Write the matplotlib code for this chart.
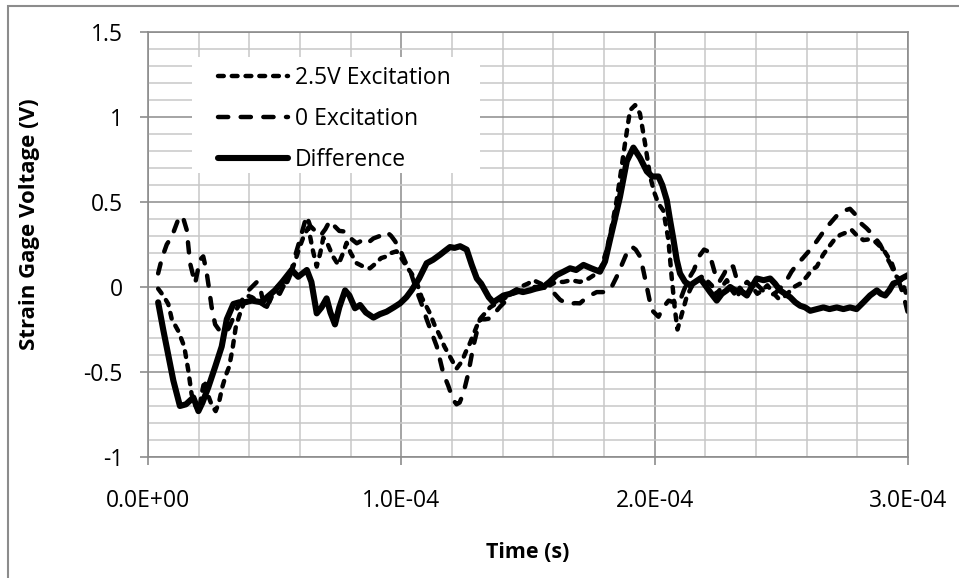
import matplotlib
matplotlib.use("Agg")
import matplotlib.pyplot as plt
from matplotlib.patches import Rectangle
from matplotlib.ticker import MultipleLocator, FuncFormatter

# time in microseconds, voltage in V
t_exc = [4, 6, 8, 9.4, 12, 14.3, 15.9, 17.2, 18.8, 20.1, 21.3, 22.3, 23.8, 25.3, 26.7, 28, 29.3, 30.7,
         32, 33.3, 34.6, 36, 37.2, 39, 41, 43, 45, 47, 49, 51, 53, 55, 56.5, 58, 60, 61.5, 63.3, 65,
         66.6, 68, 69.2, 71, 73, 75.1, 77, 78.4, 80, 82.4, 85, 87.6, 90, 92, 94.2, 96, 98.1, 100,
         102.1, 104, 106, 108, 111.3, 113, 115.3, 117, 119.2, 121.8, 123.8, 125.5, 127.1, 129.8,
         131.5, 133, 135, 137.6, 139.5, 141.6, 144, 146.9, 150, 152.1, 155, 158.7, 161, 164, 167,
         170.5, 174, 177.1, 179, 181.1, 183, 185, 186.7, 188.3, 190.3, 192.3, 194.2, 196.2, 198.2,
         200, 201.5, 203.4, 205.4, 206.7, 208, 209, 210.7, 212.6, 214.5, 216.5, 218.5, 220.5, 222.5,
         224.5, 226.5, 228.5, 230.5, 232.5, 234.5, 236.5, 238.5, 240.5, 242.5, 244.5, 246.5, 249,
         251, 253, 255, 257.4, 260, 262, 264, 266.5, 269.3, 271, 273.2, 275.5, 277.8, 280, 282.4,
         284.5, 287, 290.3, 292, 293.6, 295.5, 297.5, 298.8, 300]
v_exc = [-0.01, -0.05, -0.10, -0.19, -0.26, -0.35, -0.49, -0.63, -0.70, -0.73, -0.62, -0.55, -0.64,
         -0.70, -0.73, -0.68, -0.59, -0.52, -0.47, -0.37, -0.24, -0.17, -0.12, -0.05, -0.06, -0.08,
         -0.10, -0.12, -0.05, 0.0, 0.02, 0.03, 0.08, 0.15, 0.24, 0.30, 0.35, 0.22, 0.12, 0.20, 0.29,
         0.25, 0.18, 0.13, 0.20, 0.26, 0.20, 0.14, 0.12, 0.11, 0.14, 0.17, 0.18, 0.20, 0.21, 0.17,
         0.12, 0.08, 0.03, -0.06, -0.155, -0.22, -0.29, -0.35, -0.41, -0.48, -0.44, -0.38, -0.33,
         -0.23, -0.18, -0.155, -0.12, -0.096, -0.08, -0.057, -0.03, 0.0, 0.02, 0.04, 0.02, 0.01,
         0.03, 0.03, 0.04, 0.03, 0.05, 0.08, 0.12, 0.22, 0.35, 0.51, 0.68, 0.845, 1.04, 1.07, 1.02,
         0.845, 0.65, 0.55, 0.49, 0.45, 0.28, 0.06, -0.135, -0.25, -0.16, -0.06, 0.0, 0.03, 0.06,
         0.04, 0.01, -0.04, 0.0, 0.04, -0.02, -0.06, 0.0, 0.03, 0.0, -0.04, -0.02, 0.01, -0.03,
         -0.07, -0.06, -0.03, 0.0, 0.02, 0.06, 0.10, 0.12, 0.19, 0.247, 0.28, 0.306, 0.32, 0.335,
         0.30, 0.276, 0.28, 0.267, 0.22, 0.18, 0.14, 0.06, 0.04, -0.02, -0.07]

t_zero = [4, 5.5, 7.4, 9.5, 12, 12.8, 14, 15.3, 16.6, 18.6, 20.5, 21.8, 23, 24, 25.1, 26.5, 28.4, 30.5,
          32, 33.7, 35, 37, 39, 41, 43, 44.5, 46.2, 48, 50, 52, 54, 56, 58, 60, 61.5, 62.6, 64, 66,
          68, 70, 71.8, 73.5, 75.5, 78.4, 80.5, 82.4, 84, 86, 89, 91.5, 94.2, 96, 97.5, 99.5, 101.5,
          103.4, 106, 108, 110, 112, 114, 116.6, 118.5, 120.5, 121.8, 123, 124.5, 126.4, 128.4, 131,
          133, 135, 137, 139, 141.6, 144, 146, 148, 150, 152, 155, 158.7, 160.5, 162.7, 164.5, 166.5,
          168.5, 170.5, 172.5, 174.5, 177.1, 179, 181, 183, 185, 187, 189, 191, 192.5, 194.2, 195.5,
          196.9, 198.8, 201.5, 203.4, 205.5, 207.5, 209.5, 211.5, 213.5, 215.5, 217.5, 219.5, 221,
          222.5, 224, 225.5, 227.5, 229, 231, 232.5, 234, 236, 238, 240, 242, 244, 246, 248, 250,
          252.1, 254, 256, 258.5, 261.4, 264, 266.6, 269, 272.5, 275, 277.1, 279, 281, 283.7, 286.5,
          289, 291, 292.9, 294.5, 296.2, 298.2, 299.8]
v_zero = [0.08, 0.17, 0.25, 0.30, 0.40, 0.42, 0.40, 0.335, 0.14, 0.02, 0.16, 0.18, 0.10, 0.0, -0.116,
          -0.22, -0.26, -0.27, -0.24, -0.18, -0.13, -0.08, -0.03, 0.0, 0.03, -0.02, -0.14, -0.08,
          -0.02, -0.04, 0.02, 0.06, 0.18, 0.28, 0.36, 0.42, 0.36, 0.33, 0.30, 0.34, 0.39, 0.36, 0.33,
          0.325, 0.28, 0.257, 0.27, 0.25, 0.286, 0.30, 0.325, 0.30, 0.27, 0.22, 0.15, 0.10, -0.02,
          -0.10, -0.19, -0.27, -0.35, -0.51, -0.58, -0.665, -0.69, -0.68, -0.625, -0.51, -0.35, -0.19,
          -0.19, -0.185, -0.15, -0.116, -0.076, -0.04, -0.03, -0.02, -0.01, 0.0, 0.0, -0.01, -0.04,
          -0.076, -0.09, -0.10, -0.095, -0.096, -0.07, -0.05, -0.03, -0.03, -0.03, 0.0, 0.06, 0.13,
          0.20, 0.237, 0.22, 0.18, 0.10, 0.0, -0.135, -0.175, -0.12, -0.08, -0.09, -0.10, -0.02, 0.05,
          0.10, 0.18, 0.22, 0.21, 0.15, 0.07, 0.03, 0.08, 0.13, 0.12, 0.04, -0.02, -0.04, -0.01, 0.02,
          -0.01, -0.04, -0.05, -0.03, 0.0, 0.04, 0.09, 0.13, 0.17, 0.22, 0.27, 0.325, 0.37, 0.43,
          0.45, 0.46, 0.43, 0.38, 0.345, 0.30, 0.25, 0.19, 0.14, 0.09, 0.04, -0.047, -0.145]

t_diff = [4, 6, 8, 10, 12.6, 15, 17.9, 19.9, 21.5, 23.8, 26.5, 29.1, 31.1, 33.7, 36, 38.3, 41, 44.9,
          47, 50.1, 53, 56.7, 59.3, 62.7, 64.5, 66.6, 68.5, 70.5, 72, 73.8, 75.5, 77.8, 79.5, 81.7,
          83.7, 86, 89, 91.5, 94.2, 97, 99.5, 102, 104.1, 107, 110, 112.5, 115.3, 117, 119.2, 121,
          123.2, 125.8, 127.8, 129.8, 131.5, 133, 134.5, 136.3, 138.3, 140.3, 143, 145.5, 148, 150.8,
          153, 156, 158.5, 161.3, 164, 166.6, 169, 171.9, 175, 178.4, 180.4, 182.4, 184.3, 186.3, 189,
          191.6, 194.2, 196.9, 199, 201.5, 203, 204.8, 206, 207.4, 208.7, 210, 212, 214, 216, 218, 220,
          221.9, 224.5, 226.5, 228.4, 229.8, 231.8, 233.7, 236.4, 238.3, 240.3, 243, 245.6, 247.5,
          249.5, 251.5, 253.5, 255.5, 257.4, 259.4, 261.4, 264, 266.6, 269, 271.9, 274.5, 277.1,
          279.7, 282.4, 285, 287.7, 289.3, 291, 292.6, 294.2, 296, 297.5, 300]
v_diff = [-0.09, -0.25, -0.40, -0.55, -0.70, -0.69, -0.65, -0.73, -0.68, -0.59, -0.47, -0.35, -0.19,
          -0.10, -0.09, -0.09, -0.08, -0.09, -0.06, -0.02, 0.03, 0.10, 0.06, 0.10, 0.03, -0.155,
          -0.12, -0.067, -0.15, -0.22, -0.12, -0.02, -0.05, -0.125, -0.106, -0.15, -0.18, -0.16,
          -0.145, -0.12, -0.096, -0.06, -0.018, 0.05, 0.14, 0.16, 0.19, 0.21, 0.235, 0.23, 0.24, 0.22,
          0.13, 0.05, 0.02, -0.02, -0.06, -0.09, -0.07, -0.05, -0.04, -0.02, -0.03, -0.02, -0.01, 0.0,
          0.03, 0.07, 0.09, 0.11, 0.10, 0.13, 0.11, 0.09, 0.15, 0.28, 0.40, 0.53, 0.74, 0.82, 0.76,
          0.68, 0.65, 0.65, 0.60, 0.51, 0.40, 0.28, 0.16, 0.08, 0.03, 0.01, 0.03, 0.05, 0.01, -0.03,
          -0.08, -0.04, -0.02, 0.0, -0.02, -0.02, -0.05, 0.0, 0.05, 0.04, 0.05, 0.02, -0.02, -0.04,
          -0.06, -0.09, -0.11, -0.12, -0.14, -0.13, -0.12, -0.13, -0.12, -0.13, -0.12, -0.13, -0.09,
          -0.05, -0.02, -0.04, -0.05, -0.02, 0.02, 0.03, 0.05, 0.07]

series_labels = ["2.5V Excitation", "0 Excitation", "Difference"]

plt.rcParams['font.family'] = ['Open Sans', 'DejaVu Sans']
major_c = '#8c8c8c'
minor_c = '#c8c8c8'
W, H = 959, 578

fig = plt.figure(figsize=(W / 100, H / 100), dpi=100)
ax = fig.add_axes([148 / W, 1 - 457 / H, 760 / W, 425 / H])

us = 1e-6
ax.plot([t * us for t in t_exc], v_exc, color='black', lw=3.2, dashes=(1.3, 1.8),
        dash_capstyle='round', label=series_labels[0])
ax.plot([t * us for t in t_zero], v_zero, color='black', lw=3.2, dashes=(2.3, 2.8),
        dash_capstyle='round', label=series_labels[1])
ax.plot([t * us for t in t_diff], v_diff, color='black', lw=4.4, solid_joinstyle='round',
        solid_capstyle='round', label=series_labels[2])

ax.set_xlim(0, 3e-4)
ax.set_ylim(-1, 1.5)
ax.xaxis.set_major_locator(MultipleLocator(1e-4))
ax.xaxis.set_minor_locator(MultipleLocator(2e-5))
ax.yaxis.set_major_locator(MultipleLocator(0.5))
ax.yaxis.set_minor_locator(MultipleLocator(0.1))
ax.xaxis.set_major_formatter(FuncFormatter(lambda x, pos: f"{x:.1E}"))
ax.yaxis.set_major_formatter(FuncFormatter(lambda y, pos: f"{y:g}"))

ax.grid(which='minor', color=minor_c, lw=1.1)
ax.grid(which='major', color=major_c, lw=1.1)
ax.set_axisbelow(True)
for s in ax.spines.values():
    s.set_color(major_c)
    s.set_linewidth(1.2)
ax.tick_params(which='major', length=6, width=1.2, color=major_c, labelsize=16.5)
ax.tick_params(axis='x', which='major', pad=17)
ax.tick_params(axis='y', which='major', pad=12)
ax.tick_params(which='minor', length=0)

fig.text(528 / W, 1 - 553 / H, "Time (s)", ha='center', va='center',
         fontsize=15.5, fontweight='bold')
fig.text(30 / W, 1 - 224 / H, "Strain Gage Voltage (V)", ha='center', va='center',
         rotation=90, fontsize=16, fontweight='bold')

# legend box: white area behind the entries
ax.add_patch(Rectangle((192 / W, 1 - 173 / H), 288 / W, 116 / H, transform=fig.transFigure,
                       facecolor='white', edgecolor='none', zorder=1.5))
leg = ax.legend(loc='upper left', bbox_to_anchor=(218 / W, 1 - 66 / H),
                bbox_transform=fig.transFigure, fontsize=16.5, frameon=False,
                handlelength=3.05, handletextpad=0.3, labelspacing=0.75,
                borderpad=0, borderaxespad=0)

# outer chart border
fig.patches.append(Rectangle((8 / W, -0.1), 1.2, 1.1 - 6 / H, transform=fig.transFigure,
                             fill=False, edgecolor=major_c, lw=1.5))

plt.savefig("out.png", dpi=100)
